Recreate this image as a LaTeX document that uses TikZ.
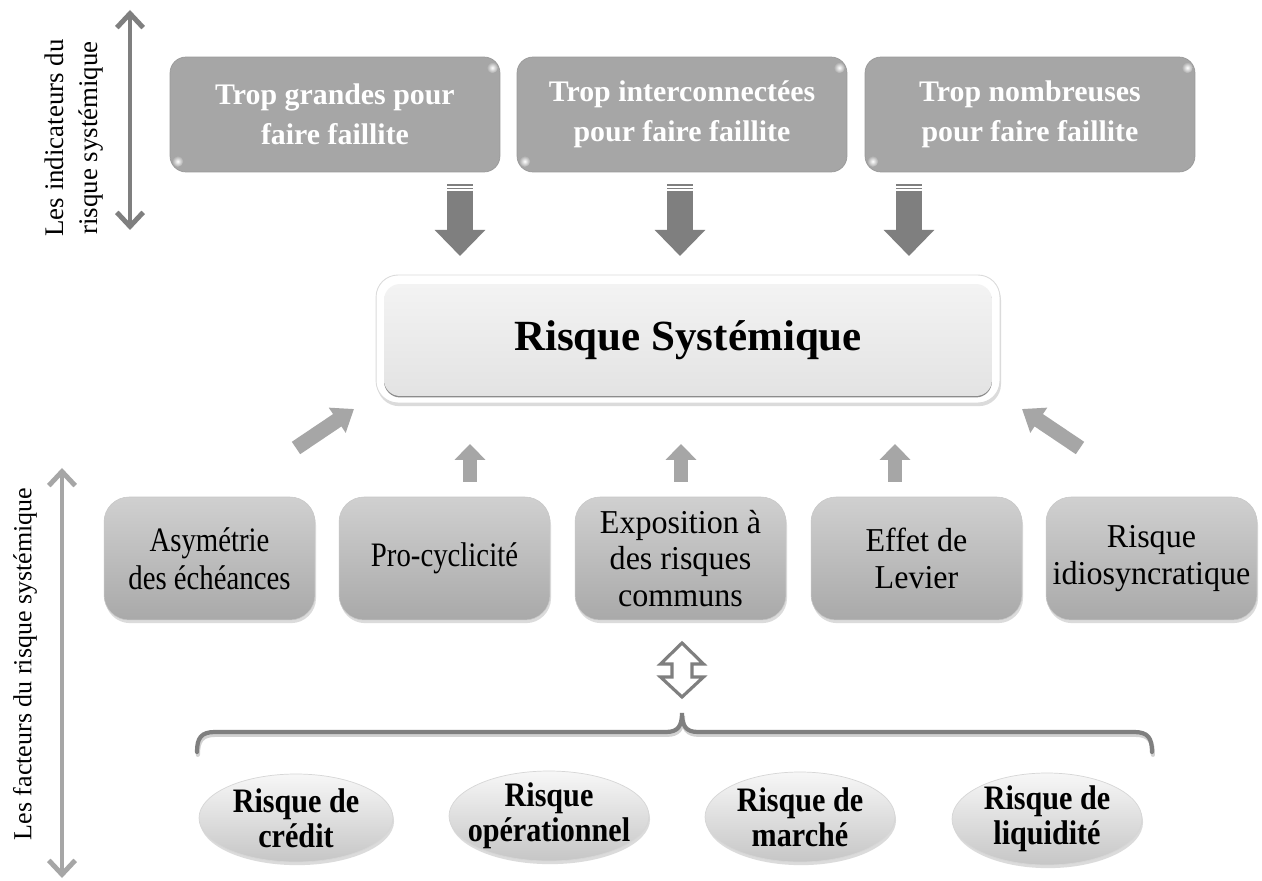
\documentclass[tikz,border=0pt]{standalone}
\usepackage{fontspec}
\setmainfont{Liberation Serif}
\newfontfamily\narrowserif[FakeStretch=0.84]{Liberation Serif}
\newfontfamily\midserif[FakeStretch=0.96]{Liberation Serif}
\newfontfamily\narrowbold[FakeStretch=0.88]{Liberation Serif}
\usetikzlibrary{arrows.meta,shapes.geometric,shadows,calc}

\definecolor{boxgray}{HTML}{A6A6A6}
\definecolor{arrowdark}{HTML}{7F7F7F}
\definecolor{arrowlight}{HTML}{A6A6A6}
\definecolor{centeredge}{HTML}{8C8C8C}
\definecolor{centertop}{HTML}{F3F3F3}
\definecolor{centerbot}{HTML}{E3E3E3}
\definecolor{midtop}{HTML}{D0D0D0}
\definecolor{midbot}{HTML}{A9A9A9}
\definecolor{elltop}{HTML}{F7F7F7}
\definecolor{ellbot}{HTML}{C6C6C6}

\tikzset{
  softshadow/.style={drop shadow={opacity=0.28, shadow xshift=0.6pt, shadow yshift=-1.8pt}},
  topbox/.style={rectangle, rounded corners=0.32cm, fill=boxgray, draw=boxgray!92!black,
    line width=0.4pt, minimum width=6.6cm, minimum height=2.3cm, inner sep=0pt,
    text=white, align=center, font=\fontsize{17}{22.5}\selectfont\bfseries},
  cframe/.style={rectangle, rounded corners=0.44cm, fill=white, draw=black!14,
    line width=0.5pt, minimum width=12.48cm, minimum height=2.56cm, softshadow},
  cinner/.style={rectangle, rounded corners=0.32cm, minimum width=12.16cm,
    minimum height=2.24cm, inner sep=0pt, align=center},
  midbox/.style={rectangle, rounded corners=0.5cm, top color=midtop, bottom color=midbot,
    draw=black!22, line width=0.3pt, minimum width=4.22cm, minimum height=2.46cm,
    inner sep=0pt, align=center, softshadow},
  midsmall/.style={font=\narrowserif\fontsize{19.5}{21.5}\selectfont},
  midlarge/.style={font=\midserif\fontsize{19}{21}\selectfont},
  ellshape/.style={ellipse, top color=elltop, bottom color=ellbot, draw=black!16,
    line width=0.4pt, inner sep=0pt, softshadow},
  elltext/.style={align=center, inner sep=0pt,
    font=\narrowbold\fontsize{19.5}{20}\selectfont\bfseries},
  sidelabel/.style={rotate=90, align=center, inner sep=0pt},
  axisdark/.style={draw=arrowdark, line width=2.8pt,
    {Straight Barb[length=8pt,width=15pt]}-{Straight Barb[length=8pt,width=15pt]}},
  axislight/.style={draw=arrowlight, line width=2.8pt,
    {Straight Barb[length=8pt,width=15pt]}-{Straight Barb[length=8pt,width=15pt]}},
  downarrow/.style={draw=arrowdark, line width=14.8pt,
    -{Triangle[width=27.9pt,length=14.8pt]}},
  uparrow/.style={draw=arrowlight, line width=8.5pt,
    -{Triangle[width=17pt,length=9pt]}},
  diagarrow/.style={draw=arrowlight, line width=8.5pt,
    -{Triangle[width=16.5pt,length=11.5pt]}},
  hollowarrow/.style={draw=arrowdark, fill=white, line width=1.8pt, line join=miter},
  bracepath/.style={draw=arrowdark, line width=2.4pt, line cap=round}
}

\begin{document}
\begin{tikzpicture}[x=0.02cm, y=-0.02cm]
\useasboundingbox[fill=white] (0,0) rectangle (1262,881);

% ---- side labels and their axes ----
\node[sidelabel, font=\fontsize{15.3}{19}\selectfont] (lab1) at (74,138)
  {Les indicateurs du\\risque systémique};
\coordinate (ax1a) at (130,10);
\coordinate (ax1b) at (130,230);
\draw[axisdark] (ax1a) -- (ax1b);

\node[sidelabel, font=\fontsize{14.8}{18}\selectfont] (lab2) at (25,664)
  {Les facteurs du risque systémique};
\coordinate (ax2a) at (62,468);
\coordinate (ax2b) at (62,878);
\draw[axislight] (ax2a) -- (ax2b);

% ---- indicator boxes ----
\node[topbox] (t1) at (335,114.5) {Trop grandes pour\\faire faillite};
\node[topbox] (t2) at (682,114.5) {Trop interconnectées\\pour faire faillite};
\node[topbox] (t3) at (1030,114.5) {Trop nombreuses\\pour faire faillite};
\foreach \b in {t1,t2,t3}{
  \shade[inner color=white, outer color=boxgray] ($(\b.north east)+(-8,11)$) circle (3.2pt);
  \shade[inner color=white, outer color=boxgray] ($(\b.south west)+(8,-11)$) circle (3.2pt);
}

% ---- striped arrows into the central box ----
\foreach \i/\x in {1/460,2/680,3/909}{
  \coordinate (d\i s) at (\x,191);
  \coordinate (d\i e) at (\x,256);
  \fill[arrowdark] (\x-13,184) rectangle (\x+13,186);
  \fill[arrowdark] (\x-13,188) rectangle (\x+13,189.5);
  \draw[downarrow] (d\i s) -- (d\i e);
}

% ---- central box ----
\node[cframe] (cs) at (688,339) {};
\node[cinner, fill=centeredge, yshift=-1.4pt] (csedge) at (688,339) {};
\node[cinner, top color=centertop, bottom color=centerbot,
  font=\fontsize{24.5}{28}\selectfont\bfseries] (csi) at (688,340) {Risque Systémique};

% ---- factor boxes ----
\node[midbox, midsmall] (m1) at (209.5,558.5) {Asymétrie\\des échéances};
\node[midbox, midsmall] (m2) at (444.5,558.5) {Pro-cyclicité};
\node[midbox, midlarge] (m3) at (680.5,558.5) {Exposition à\\des risques\\communs};
\node[midbox, midlarge] (m4) at (916.5,558.5) {Effet de\\Levier};
\node[midbox, midlarge] (m5) at (1151.5,558.5) {Risque\\idiosyncratique};

% ---- arrows from the factors up to the central box ----
\foreach \i/\x in {1/470,2/681,3/895}{
  \coordinate (u\i s) at (\x,482);
  \coordinate (u\i e) at (\x,444);
  \draw[uparrow] (u\i s) -- (u\i e);
}
\coordinate (dls) at (296,448);
\coordinate (dle) at (354,409);
\draw[diagarrow] (dls) -- (dle);
\coordinate (drs) at (1080,448);
\coordinate (dre) at (1022,409);
\draw[diagarrow] (drs) -- (dre);

% ---- two-way hollow arrow ----
\coordinate (dbl) at (682,670);
\draw[hollowarrow] (dbl) ++(0,-27) -- ++(21.5,21) -- ++(-11.5,0) -- ++(0,13)
  -- ++(11.5,0) -- ++(-21.5,20) -- ++(-21.5,-20) -- ++(11.5,0) -- ++(0,-13)
  -- ++(-11.5,0) -- cycle;

% ---- brace ----
\begin{scope}[yshift=-1.6pt, xshift=0.5pt]
\draw[bracepath, draw=black!18] (197,752) .. controls (197,738) and (201,732) .. (215,732)
  -- (666,732) .. controls (678,732) and (682,726) .. (682,713)
  .. controls (682,726) and (686,732) .. (698,732)
  -- (1134,732) .. controls (1148,732) and (1152,738) .. (1152,752);
\end{scope}
\draw[bracepath] (197,752) .. controls (197,738) and (201,732) .. (215,732)
  -- (666,732) .. controls (678,732) and (682,726) .. (682,713)
  .. controls (682,726) and (686,732) .. (698,732)
  -- (1134,732) .. controls (1148,732) and (1152,738) .. (1152,752);

% ---- component risks ----
\node[ellshape, minimum width=3.88cm, minimum height=1.76cm] (e1) at (296,818) {};
\node[elltext] (e1t) at (e1) {Risque de\\crédit};
\node[ellshape, minimum width=4.0cm, minimum height=1.8cm] (e2) at (549,816) {};
\node[elltext] (e2t) at (e2) {Risque\\opérationnel};
\node[ellshape, minimum width=3.8cm, minimum height=1.8cm] (e3) at (800,817) {};
\node[elltext] (e3t) at (e3) {Risque de\\marché};
\node[ellshape, minimum width=3.8cm, minimum height=1.84cm] (e4) at (1047,819) {};
\node[elltext] (e4t) at (e4) {Risque de\\liquidité};
\end{tikzpicture}
\end{document}
